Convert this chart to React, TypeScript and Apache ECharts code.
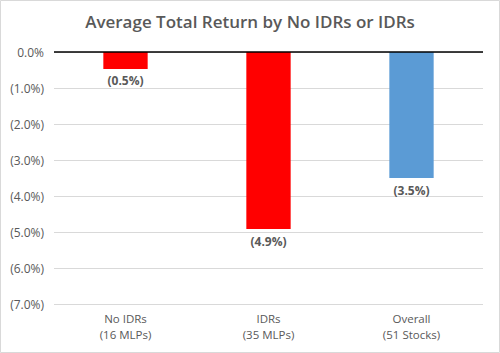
import React, { useEffect, useRef } from "react";
import * as echarts from "echarts";

const categories = ["No IDRs\n(16 MLPs)", "IDRs\n(35 MLPs)", "Overall\n(51 Stocks)"];
const values = [-0.47, -4.92, -3.5];
const barColors = ["#ff0000", "#ff0000", "#5b9bd5"];
const titleText = "Average Total Return by No IDRs or IDRs";

const fmt = (v: number) => (Math.abs(v) < 1e-9 ? "0.0%" : "(" + Math.abs(v).toFixed(1) + "%)");

export default function App() {
  const ref = useRef<HTMLDivElement>(null);
  useEffect(() => {
    document.body.style.margin = "0";
    const chart = echarts.init(ref.current!, null, { renderer: "svg" });
    const font = "Open Sans, Noto Sans, sans-serif";
    chart.setOption({
      animation: false,
      backgroundColor: "#ffffff",
      textStyle: { fontFamily: font },
      title: {
        text: titleText,
        left: "center",
        top: 8,
        textStyle: { fontSize: 17, fontWeight: 600, color: "#595959", fontFamily: font },
      },
      graphic: [
        {
          type: "rect",
          shape: { x: 0.5, y: 0.5, width: 499, height: 352 },
          style: { fill: "none", stroke: "#d9d9d9", lineWidth: 1 },
          silent: true,
        },
      ],
      grid: { left: 54, right: 17, top: 52, bottom: 49 },
      xAxis: {
        type: "category",
        data: categories,
        position: "bottom",
        axisLine: { show: false },
        axisTick: { show: false },
        axisLabel: { color: "#595959", fontSize: 11.5, lineHeight: 16, margin: 6 },
      },
      yAxis: {
        type: "value",
        min: -7,
        max: 0,
        interval: 1,
        axisLine: { show: false },
        axisTick: { show: false },
        axisLabel: { color: "#595959", fontSize: 12, margin: 10, formatter: fmt },
        splitLine: { lineStyle: { color: "#d9d9d9", width: 1 } },
      },
      series: [
        {
          type: "bar",
          barWidth: "31%",
          data: values.map((v, i) => ({ value: v, itemStyle: { color: barColors[i] } })),
          label: {
            show: true,
            position: "bottom",
            distance: 6,
            color: "#595959",
            fontWeight: "bold",
            fontSize: 12,
            formatter: (p: any) => fmt(Math.round(p.value * 10) / 10),
          },
          markLine: {
            silent: true,
            symbol: "none",
            label: { show: false },
            lineStyle: { color: "#000000", type: "solid", width: 1.5 },
            data: [{ yAxis: 0 }],
          },
        },
      ],
    });
    return () => chart.dispose();
  }, []);
  return <div ref={ref} style={{ width: 500, height: 353 }} />;
}
